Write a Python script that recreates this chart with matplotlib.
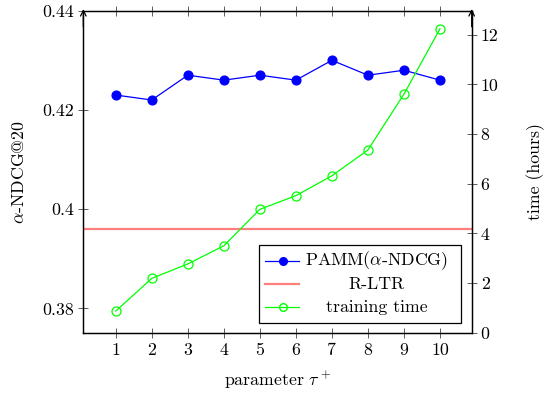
import matplotlib
matplotlib.use("Agg")
import matplotlib.pyplot as plt
from matplotlib.lines import Line2D
from matplotlib.patches import Rectangle

plt.rcParams['font.family'] = ['cmr10', 'DejaVu Serif']
plt.rcParams['mathtext.fontset'] = 'cm'
plt.rcParams['axes.formatter.use_mathtext'] = True

tau = [1, 2, 3, 4, 5, 6, 7, 8, 9, 10]
pamm_ndcg = [0.423, 0.422, 0.427, 0.426, 0.427, 0.426, 0.430, 0.427, 0.428, 0.426]
rltr_ndcg = 0.396
train_hours = [0.87, 2.19, 2.77, 3.50, 4.97, 5.52, 6.32, 7.36, 9.61, 12.24]
left_ticks = [0.38, 0.40, 0.42, 0.44]
left_tick_labels = ["0.38", "0.4", "0.42", "0.44"]
right_ticks = [0, 2, 4, 6, 8, 10, 12]
legend_labels = [r"PAMM($\alpha$-NDCG)", "R-LTR", "training time"]

BLUE = (0, 0, 1)
GREEN = (0, 1, 0)
RED = '#ff7f7f'
FS = 12.8

fig = plt.figure(figsize=(5.46, 3.96), dpi=100)
ax = fig.add_axes([0.1526, 0.1598, 0.8639 - 0.1526, 0.973 - 0.1598])
ax2 = ax.twinx()

ax.plot(tau, pamm_ndcg, color=BLUE, lw=0.9, marker='o', ms=6.3, mfc=BLUE, mec=BLUE, zorder=3)
ax.axhline(rltr_ndcg, color=RED, lw=1.6, zorder=2)
ax2.plot(tau, train_hours, color=GREEN, lw=0.9, marker='o', ms=6.5, mfc='none', mec=GREEN, mew=0.9, zorder=3)

ax.set_xlim(0.1, 10.88)
ax.set_ylim(0.3751, 0.44)
ax2.set_ylim(0, 12.97)

ax.set_xticks(tau)
ax.set_xticklabels([str(t) for t in tau], fontsize=FS)
ax.set_yticks(left_ticks)
ax.set_yticklabels(left_tick_labels, fontsize=FS)
ax2.set_yticks(right_ticks)
ax2.set_yticklabels([str(t) for t in right_ticks], fontsize=FS)

ax.tick_params(axis='x', direction='inout', length=7, width=0.6, top=True, labeltop=False, color='#444444', pad=4)
ax.tick_params(axis='y', direction='inout', length=7, width=0.6, right=False, color='#444444', pad=3)
ax2.tick_params(axis='y', direction='inout', length=7, width=0.6, color='#444444', pad=3)

for a in (ax, ax2):
    for s in a.spines.values():
        s.set_linewidth(0.9)
        s.set_color('black')

ax.set_xlabel(r"parameter $\tau^+$", fontsize=FS, labelpad=8)
ax.set_ylabel(r"$\alpha$-NDCG@20", fontsize=FS, labelpad=11)
ax2.set_ylabel("time (hours)", fontsize=FS, labelpad=20)

# arrows on top of vertical axes
for xf in (0.0, 1.0):
    ax2.annotate('', xy=(xf, 1.005), xytext=(xf, 0.95), xycoords='axes fraction',
                 arrowprops=dict(arrowstyle='->', lw=0.9, color='black', shrinkA=0, shrinkB=0))

# legend drawn manually (centered text like pgfplots)
lx0, lx1, ly0, ly1 = 0.4516, 0.9717, 0.029, 0.272
ax2.add_patch(Rectangle((lx0, ly0), lx1 - lx0, ly1 - ly0, transform=ax2.transAxes,
                        facecolor='white', edgecolor='black', lw=0.9, zorder=5))
rows_y = [0.2227, 0.150, 0.0789]
h0, h1, hm = 0.469, 0.556, 0.513
txt_x = 0.755
styles = [dict(color=BLUE, lw=0.9, marker='o', ms=5.5, mfc=BLUE, mec=BLUE),
          dict(color=RED, lw=1.6),
          dict(color=GREEN, lw=0.9, marker='o', ms=5.5, mfc='none', mec=GREEN)]
for y, st, lab in zip(rows_y, styles, legend_labels):
    ax2.add_line(Line2D([h0, h1], [y, y], transform=ax2.transAxes, zorder=6, color=st['color'], lw=st['lw']))
    if 'marker' in st:
        ax2.add_line(Line2D([hm], [y], transform=ax2.transAxes, zorder=6, ls='none',
                            marker='o', ms=st['ms'], mfc=st['mfc'], mec=st['mec']))
    ax2.text(txt_x, y, lab, transform=ax2.transAxes, ha='center', va='center', fontsize=FS, zorder=7)

fig.savefig("out.png", dpi=100)
